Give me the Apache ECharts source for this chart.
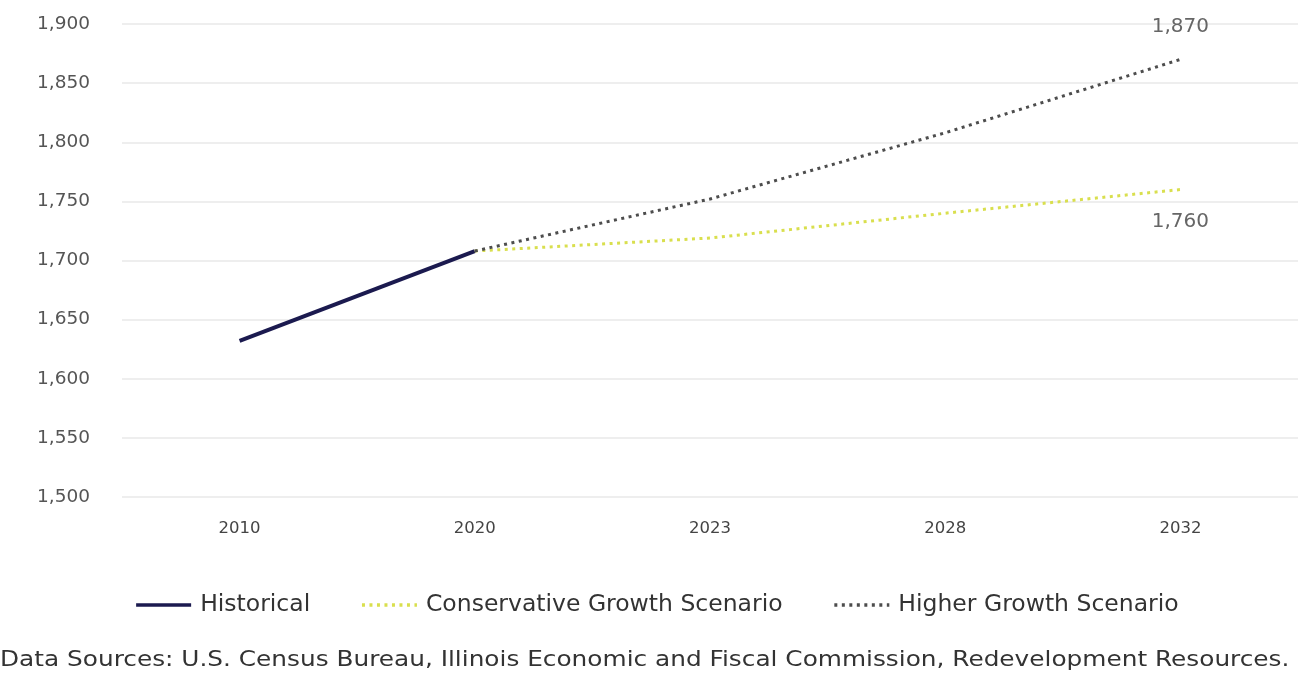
<!DOCTYPE html>
<html>
<head>
<meta charset="utf-8">
<script src="https://cdn.jsdelivr.net/npm/echarts@6/dist/echarts.min.js"></script>
<style>
html,body{margin:0;padding:0;background:#fff;}
#chart{width:1313px;height:679px;}
</style>
</head>
<body>
<div id="chart"></div>
<script>
const categories = ['2010', '2020', '2023', '2028', '2032'];
const historical = [1632, 1708, null, null, null];
const conservative = [null, 1708, 1719, 1740, 1760];
const higher = [null, 1708, 1752, 1808, 1870];
const yTicks = { min: 1500, max: 1900, interval: 50 };
const sourceText = 'Data Sources: U.S. Census Bureau, Illinois Economic and Fiscal Commission, Redevelopment Resources.';

const FONT = '"DejaVu Sans", sans-serif';

function endMark(arr, position) {
  const last = arr.length - 1;
  return {
    symbol: 'circle',
    symbolSize: 1,
    itemStyle: { color: 'transparent' },
    label: {
      show: true, position: position, distance: 22,
      formatter: p => p.value.toLocaleString('en-US'),
      color: '#666', fontSize: 20, fontFamily: FONT
    },
    data: [{ coord: [categories[last], arr[last]], value: arr[last] }]
  };
}

const chart = echarts.init(document.getElementById('chart'));
chart.setOption({
  animation: false,
  backgroundColor: '#fff',
  grid: { left: 122, right: 15, top: 24, bottom: 182, containLabel: false },
  xAxis: {
    type: 'category',
    data: categories,
    boundaryGap: true,
    axisLine: { show: false },
    axisTick: { show: false },
    axisLabel: { color: '#444', fontSize: 16.5, fontFamily: FONT, margin: 23 }
  },
  yAxis: {
    type: 'value',
    min: yTicks.min, max: yTicks.max, interval: yTicks.interval,
    axisLine: { show: false },
    axisTick: { show: false },
    splitLine: { lineStyle: { color: '#e8e8e8', width: 1.5 } },
    axisLabel: {
      color: '#555', fontSize: 18.5, fontFamily: FONT, margin: 32,
      formatter: v => v.toLocaleString('en-US')
    }
  },
  legend: {
    bottom: 57,
    left: 'center',
    itemWidth: 55,
    itemHeight: 14,
    itemGap: 50,
    itemStyle: { color: 'transparent', borderWidth: 0, opacity: 0 },
    lineStyle: { width: 3.5 },
    textStyle: { color: '#333', fontSize: 23.5, fontFamily: FONT, padding: [0, 0, 0, 4] },
    data: ['Historical', 'Conservative Growth Scenario', 'Higher Growth Scenario']
  },
  graphic: [{
    type: 'text',
    left: 0,
    top: 650,
    scaleX: 1.18,
    style: { text: sourceText, fill: '#333', fontSize: 21, fontFamily: FONT }
  }],
  series: [
    {
      name: 'Historical', type: 'line', data: historical,
      symbol: 'none', connectNulls: false,
      lineStyle: { color: '#1b1a4f', width: 4, type: 'solid' },
      itemStyle: { color: '#1b1a4f' }
    },
    {
      name: 'Conservative Growth Scenario', type: 'line',
      data: conservative,
      symbol: 'none',
      lineStyle: { color: '#d9df4e', width: 3, type: [3, 4.5] },
      itemStyle: { color: '#d9df4e' },
      markPoint: endMark(conservative, 'bottom')
    },
    {
      name: 'Higher Growth Scenario', type: 'line',
      data: higher,
      symbol: 'none',
      lineStyle: { color: '#4d4d4d', width: 3, type: [3, 4.5] },
      itemStyle: { color: '#4d4d4d' },
      markPoint: endMark(higher, 'top')
    }
  ]
});
</script>
</body>
</html>
